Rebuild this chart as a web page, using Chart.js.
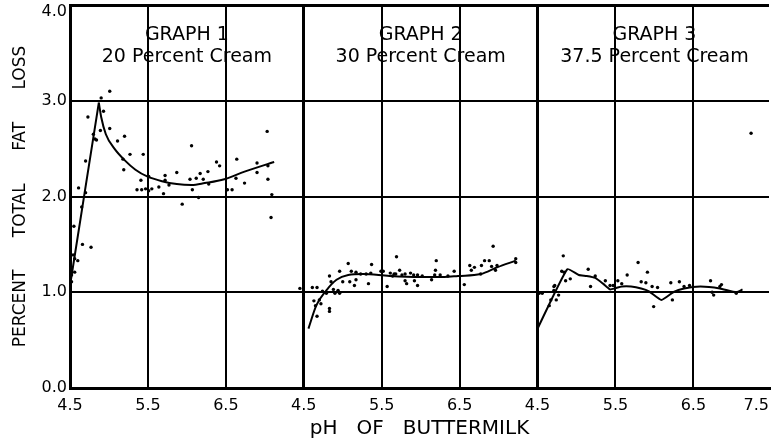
<!DOCTYPE html>
<html>
<head>
<meta charset="utf-8">
<script src="https://cdn.jsdelivr.net/npm/chart.js@4.4.0/dist/chart.umd.min.js"></script>
<style>
html,body{margin:0;padding:0;background:#fff;overflow:hidden}
</style>
</head>
<body>
<canvas id="myChart" width="777" height="444"></canvas>
<script>
// panel headings
var panels = ['GRAPH 1', 'GRAPH 2', 'GRAPH 3'];
var creams = ['20 Percent Cream', '30 Percent Cream', '37.5 Percent Cream'];

// x runs 0..9 across the three panels, each panel is pH 4.5 - 7.5
var xTickValues = [0, 0, 1, 2, 3, 4, 5, 6, 7, 8, 8.97];
var xTickLabels = ['', '4.5', '5.5', '6.5', '4.5', '5.5', '6.5', '4.5', '5.5', '6.5', '7.5'];
// the 4.0 label sits just under the top line in the original
var yTickValues = [0, 1, 2, 3, 3.93, 4];
var yTickLabels = ['0.0', '1.0', '2.0', '3.0', '4.0', ''];

// graph 1 - 20 percent cream
var g1Ph = [5.01,4.90,4.93,4.73,4.89,5.01,4.80,4.82,5.11,5.20,5.27,5.44,5.18,5.19,4.70,4.61,4.70,5.41,5.51,5.36,5.42,5.47,5.55,5.51,5.64,5.70,5.72,5.72,5.77,5.87,4.65,4.55,4.66,4.77,4.54,4.56,4.60,4.52,4.52,4.56,6.06,6.38,6.42,6.64,7.03,6.90,6.90,7.04,7.04,7.09,7.08,5.94,6.04,6.12,6.17,6.21,6.27,6.07,6.15,6.28,6.52,6.58,6.63,6.74,4.84];
var g1Loss = [3.10,3.03,2.89,2.83,2.69,2.71,2.65,2.60,2.58,2.63,2.44,2.44,2.39,2.28,2.37,2.09,2.04,2.17,2.21,2.07,2.07,2.08,2.08,2.06,2.10,2.03,2.22,2.17,2.12,2.25,1.89,1.69,1.50,1.47,1.39,1.35,1.33,1.18,1.11,1.21,2.53,2.36,2.32,2.39,2.68,2.35,2.25,2.32,2.18,2.02,1.78,1.92,2.18,2.19,2.24,2.18,2.26,2.07,1.99,2.13,2.07,2.07,2.19,2.14,2.59];
var g1RisePh = [4.51, 4.87];
var g1RiseLoss = [1.12, 2.98];
var g1CurvePh = [4.87,4.90,4.96,5.07,5.20,5.34,5.49,5.68,5.87,6.06,6.23,6.48,6.74,7.12];
var g1CurveLoss = [2.98,2.83,2.65,2.50,2.38,2.28,2.21,2.16,2.13,2.12,2.14,2.18,2.26,2.36];

// graph 2 - 30 percent cream
var g2Ph = [4.45,4.61,4.67,4.74,4.83,4.85,4.96,5.07,4.88,4.90,4.94,4.96,4.63,4.65,4.70,4.72,4.67,4.83,4.83,4.79,5.00,5.09,5.15,5.17,5.11,5.17,5.23,5.30,5.36,5.37,5.33,5.49,5.52,5.69,5.57,5.61,5.68,5.73,5.76,5.80,5.87,5.91,5.80,5.96,6.02,5.92,5.96,5.82,6.14,6.18,6.25,6.20,6.19,6.35,6.43,6.56,6.63,6.69,6.65,6.77,6.78,6.82,6.88,6.91,6.98,6.93,6.96,7.22,7.22,5.64,5.66];
var g2Loss = [1.04,1.05,1.05,1.01,1.17,1.11,1.22,1.30,1.03,0.99,1.02,0.99,0.91,0.86,0.92,0.88,0.75,0.83,0.80,0.99,1.11,1.11,1.07,1.13,1.22,1.21,1.19,1.19,1.20,1.29,1.09,1.22,1.22,1.37,1.06,1.20,1.19,1.23,1.18,1.19,1.20,1.18,1.12,1.18,1.17,1.12,1.07,1.09,1.13,1.18,1.18,1.33,1.23,1.17,1.22,1.08,1.28,1.26,1.23,1.19,1.28,1.33,1.33,1.27,1.28,1.48,1.23,1.35,1.31,1.17,1.19];
var g2CurvePh = [4.56,4.66,4.79,4.92,5.07,5.26,5.60,6.00,6.30,6.48,6.77,6.98,7.22];
var g2CurveLoss = [0.62,0.86,1.02,1.13,1.18,1.19,1.17,1.16,1.16,1.17,1.19,1.26,1.33];

// graph 3 - 37.5 percent cream
var g3Ph = [4.83,4.81,4.84,4.86,4.92,4.72,4.71,4.77,4.74,4.67,4.65,4.52,4.56,5.15,5.24,5.18,5.37,5.43,5.47,5.53,5.58,5.65,5.79,5.83,5.89,5.91,5.97,6.04,5.99,6.21,6.32,6.23,6.38,6.45,6.72,6.74,6.76,6.86,6.84,7.05,7.24,4.71];
var g3Loss = [1.38,1.22,1.21,1.12,1.14,1.07,1.02,0.97,0.92,0.92,0.86,0.99,0.99,1.24,1.17,1.06,1.12,1.07,1.07,1.12,1.09,1.18,1.31,1.11,1.10,1.21,1.06,1.05,0.85,1.10,1.11,0.92,1.06,1.07,1.12,1.00,0.97,1.08,1.06,0.99,2.66,1.06];
var g3CurvePh = [4.50,4.88,5.03,5.13,5.24,5.34,5.43,5.49,5.58,5.70,5.83,5.93,6.09,6.24,6.38,6.59,6.84,7.05,7.13];
var g3CurveLoss = [0.62,1.24,1.18,1.17,1.15,1.09,1.03,1.04,1.06,1.06,1.04,1.01,0.92,1.00,1.04,1.06,1.04,1.00,1.03];

var FONT = '"DejaVu Sans", sans-serif';

function toXY(ph, loss, panel) {
	var out = [];
	for (var i = 0; i < ph.length; i++) {
		out.push({x: ph[i] - 4.5 + 3 * panel, y: loss[i]});
	}
	return out;
}

function dots(ph, loss, panel) {
	return {type: 'scatter', data: toXY(ph, loss, panel), pointRadius: 1.7, pointBackgroundColor: '#000', pointBorderWidth: 0, showLine: false};
}

function curve(ph, loss, panel, mode) {
	return {type: 'line', data: toXY(ph, loss, panel), borderColor: '#000', borderWidth: 2, pointRadius: 0, fill: false,
		cubicInterpolationMode: mode == 'smooth' ? 'monotone' : 'default', tension: mode == 'smooth' ? 0 : 0.15};
}

var panelTitles = {
	id: 'panelTitles',
	afterDraw: function(chart) {
		var ctx = chart.ctx, xs = chart.scales.x, ys = chart.scales.y;
		ctx.save();
		ctx.fillStyle = '#000';
		ctx.textAlign = 'center';
		ctx.textBaseline = 'middle';
		ctx.font = '19px ' + FONT;
		for (var i = 0; i < panels.length; i++) {
			var cx = xs.getPixelForValue(1.5 + 3 * i);
			ctx.fillText(panels[i], cx, ys.getPixelForValue(3.69));
			ctx.fillText(creams[i], cx, ys.getPixelForValue(3.46));
		}
		ctx.restore();
	}
};

var myChart = new Chart(document.getElementById('myChart').getContext('2d'), {
	data: {
		datasets: [
			dots(g1Ph, g1Loss, 0),
			curve(g1RisePh, g1RiseLoss, 0, 'straight'),
			curve(g1CurvePh, g1CurveLoss, 0, 'smooth'),
			dots(g2Ph, g2Loss, 1),
			curve(g2CurvePh, g2CurveLoss, 1, 'smooth'),
			dots(g3Ph, g3Loss, 2),
			curve(g3CurvePh, g3CurveLoss, 2, 'straight')
		]
	},
	options: {
		responsive: false,
		animation: false,
		layout: {padding: {left: 0, right: 1, top: 0, bottom: 0}},
		plugins: {legend: {display: false}, tooltip: {enabled: false}},
		scales: {
			x: {
				type: 'linear',
				min: 0,
				max: 8.97,
				afterBuildTicks: function(scale) {
					scale.ticks = xTickValues.map(function(v) { return {value: v}; });
				},
				afterFit: function(scale) { scale.height = 56; },
				ticks: {
					autoSkip: false,
					maxRotation: 0,
					align: 'inner',
					padding: 8,
					color: '#000',
					font: {family: FONT, size: 16},
					callback: function(value, index) { return xTickLabels[index]; }
				},
				grid: {
					drawTicks: false,
					color: function(c) { return c.tick && c.tick.value > 8.5 ? 'rgba(0,0,0,0)' : '#000'; },
					lineWidth: function(c) { return c.tick && c.tick.value % 3 === 0 ? 3 : 2; }
				},
				border: {color: '#000', width: 3},
				title: {display: true, text: 'pH   OF   BUTTERMILK', color: '#000', font: {family: FONT, size: 20}, padding: {top: 0, bottom: 3}}
			},
			y: {
				min: 0,
				max: 4,
				afterBuildTicks: function(scale) {
					scale.ticks = yTickValues.map(function(v) { return {value: v}; });
				},
				afterFit: function(scale) { scale.width = 70; scale.paddingTop = 5; },
				ticks: {
					autoSkip: false,
					padding: 3,
					color: '#000',
					font: {family: FONT, size: 16},
					callback: function(value, index) { return yTickLabels[index]; }
				},
				grid: {
					drawTicks: false,
					color: function(c) { return c.tick && c.tick.value === 3.93 ? 'rgba(0,0,0,0)' : '#000'; },
					lineWidth: function(c) { return c.tick && (c.tick.value === 4 || c.tick.value === 0) ? 3 : 2; }
				},
				border: {color: '#000', width: 3},
				title: {display: true, text: 'PERCENT      TOTAL      FAT      LOSS', color: '#000', font: {family: FONT, size: 17}, padding: {top: 10, bottom: 0}}
			}
		}
	},
	plugins: [panelTitles]
});
</script>
</body>
</html>
